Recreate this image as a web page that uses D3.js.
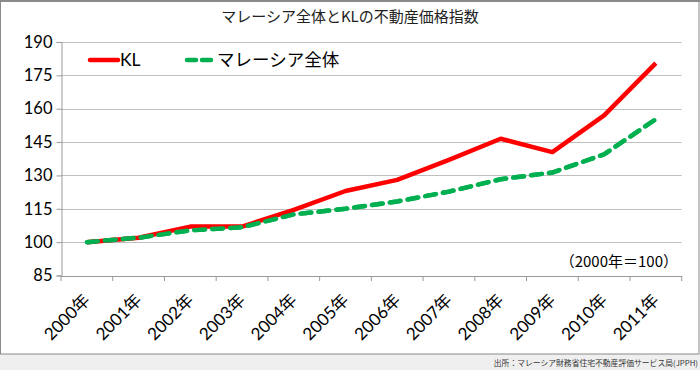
<!DOCTYPE html>
<html><head><meta charset="utf-8">
<script src="https://cdn.jsdelivr.net/npm/d3@7"></script>
<style>
body{margin:0;padding:0;background:#fff;}
svg{display:block;}
</style></head>
<body>
<svg id="chart" width="700" height="370"></svg>
<script>
const categories = ["2000年","2001年","2002年","2003年","2004年","2005年","2006年","2007年","2008年","2009年","2010年","2011年"];
const klValues = [100,102,107,107,114.5,123,128,137,146.5,140.5,157,180.5];
const malaysiaValues = [100,102,105.3,106.7,112.5,115,118.3,122.7,128.3,131.3,139.5,155.3];
const yTicks = [85,100,115,130,145,160,175,190];
const seriesNames = ["KL","マレーシア全体"];
const titleText = "マレーシア全体とKLの不動産価格指数";
const noteText = "（2000年＝100）";
const sourceText = "出所：マレーシア財務省住宅不動産評価サービス局(JPPH)";

const svg = d3.select("#chart");
const numFont = "Lato, 'Noto Sans CJK JP', sans-serif";
const jpFont = "'Noto Sans CJK JP', sans-serif";

// source band & frame
svg.append("rect").attr("x",0).attr("y",354).attr("width",700).attr("height",16).attr("fill","#efefef");
svg.append("rect").attr("x",0.5).attr("y",0.5).attr("width",698.5).attr("height",353.5)
  .attr("fill","#fff").attr("stroke","#8a8a8a").attr("stroke-width",1);
svg.append("line").attr("x1",0).attr("x2",700).attr("y1",1).attr("y2",1).attr("stroke","#8a8a8a").attr("stroke-width",2);

const x = d3.scaleBand().domain(categories).range([61,681.7]);
const y = d3.scaleLinear().domain([85,190]).range([275.5,42]);

// grid
svg.append("g").selectAll("line").data(yTicks).join("line")
  .attr("x1",61).attr("x2",681.7)
  .attr("y1",d=>Math.round(y(d))+0.5).attr("y2",d=>Math.round(y(d))+0.5)
  .attr("stroke","#bfbfbf").attr("stroke-width",1.2);

// y axis
const yAxis = svg.append("g").attr("transform","translate(61.5,0)")
  .call(d3.axisLeft(y).tickValues(yTicks).tickSize(5).tickPadding(4));
yAxis.select(".domain").attr("stroke","#9a9a9a");
yAxis.selectAll(".tick line").attr("stroke","#9a9a9a");
yAxis.selectAll("text").attr("font-family",numFont).attr("font-size",16.5).attr("fill","#000");

// x axis
const xAxis = svg.append("g").attr("transform","translate(0,276)")
  .call(d3.axisBottom(x).tickSize(0).tickFormat(""));
xAxis.select(".domain").attr("stroke","#9a9a9a");
const bounds = d3.range(categories.length+1).map(i=>61+i*x.step());
xAxis.append("g").selectAll("line").data(bounds).join("line")
  .attr("x1",d=>d).attr("x2",d=>d).attr("y1",0).attr("y2",5).attr("stroke","#9a9a9a");
svg.append("g").selectAll("text").data(categories).join("text")
  .attr("transform",d=>`translate(${x(d)+x.bandwidth()/2},${297}) rotate(-45)`)
  .attr("text-anchor","end").attr("dy","0.35em")
  .attr("font-family",numFont).attr("font-size",17).attr("fill","#000")
  .text(d=>d);

// lines
const line = d3.line().x((d,i)=>x(categories[i])+x.bandwidth()/2).y(d=>y(d));
svg.append("path").datum(malaysiaValues).attr("d",line).attr("fill","none")
  .attr("stroke","#00b050").attr("stroke-width",4.5).attr("stroke-dasharray","11,7");
svg.append("path").datum(klValues).attr("d",line).attr("fill","none")
  .attr("stroke","#ff0000").attr("stroke-width",4.5).attr("stroke-linejoin","round");
svg.append("path").datum(malaysiaValues).attr("d",line).attr("fill","none")
  .attr("stroke","#00b050").attr("stroke-width",4.5).attr("stroke-dasharray","11,7").attr("stroke-linecap","round");

// legend
const lg = svg.append("g");
lg.append("line").attr("x1",90).attr("x2",118).attr("y1",60).attr("y2",60)
  .attr("stroke","#ff0000").attr("stroke-width",4.5).attr("stroke-linecap","round");
lg.append("text").attr("x",120).attr("y",66).attr("font-family",numFont).attr("font-size",17.5).text(seriesNames[0]);
lg.append("line").attr("x1",187).attr("x2",215).attr("y1",60).attr("y2",60)
  .attr("stroke","#00b050").attr("stroke-width",4.5).attr("stroke-dasharray","9,6").attr("stroke-linecap","round");
lg.append("text").attr("x",217).attr("y",66).attr("font-family",jpFont).attr("font-size",17.5).text(seriesNames[1]);

// title
svg.append("text").attr("x",350).attr("y",22).attr("text-anchor","middle")
  .attr("font-family","'Noto Sans CJK JP', serif").attr("font-size",15).attr("fill","#222").text(titleText);

// note
svg.append("text").attr("x",678).attr("y",267).attr("text-anchor","end")
  .attr("font-family",jpFont).attr("font-size",15).text(noteText);

// source
svg.append("text").attr("x",698).attr("y",366).attr("text-anchor","end")
  .attr("font-family",jpFont).attr("font-size",7.8).attr("fill","#333").text(sourceText);
</script>
</body></html>
